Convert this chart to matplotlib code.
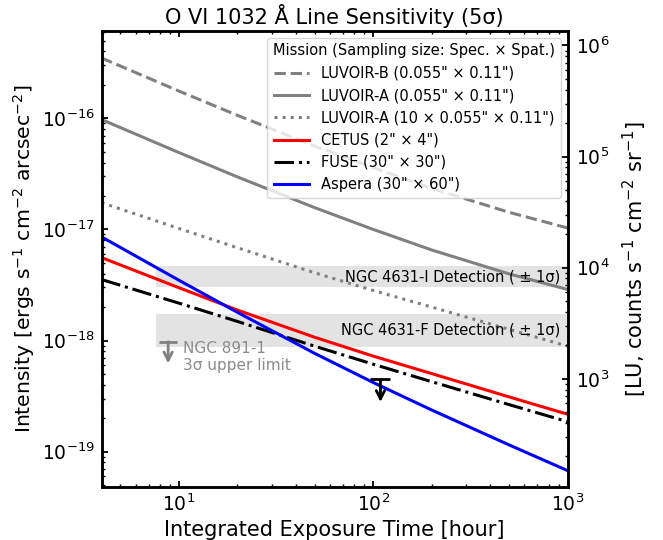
import matplotlib
matplotlib.use("Agg")
import matplotlib.pyplot as plt
import matplotlib.transforms as mtransforms

# ---- data ----
t_hours = [4, 10, 20, 50, 100, 200, 500, 1000]
luvoir_b = [3.49e-16, 1.76e-16, 1.064e-16, 5.62e-17, 3.6e-17, 2.34e-17, 1.426e-17, 1.03e-17]
luvoir_a = [9.75e-17, 4.92e-17, 2.97e-17, 1.57e-17, 1.0e-17, 6.53e-18, 3.98e-18, 2.88e-18]
luvoir_a10 = [1.74e-17, 1.02e-17, 6.84e-18, 4.07e-18, 2.82e-18, 2.0e-18, 1.26e-18, 8.9e-19]
cetus = [5.58e-18, 2.99e-18, 1.88e-18, 1.07e-18, 7.24e-19, 5.04e-19, 3.11e-19, 2.17e-19]
fuse = [3.54e-18, 2.17e-18, 1.486e-18, 8.89e-19, 6.12e-19, 4.26e-19, 2.65e-19, 1.86e-19]
aspera = [8.57e-18, 3.49e-18, 1.795e-18, 7.66e-19, 4.19e-19, 2.37e-19, 1.15e-19, 6.75e-20]

series_labels = ['LUVOIR-B (0.055" × 0.11")', 'LUVOIR-A (0.055" × 0.11")',
                 'LUVOIR-A (10 × 0.055" × 0.11")', 'CETUS (2" × 4")',
                 'FUSE (30" × 30")', 'Aspera (30" × 60")']

# detection bands (low, high) in erg s^-1 cm^-2 arcsec^-2
band_4631_I = [3.02e-18, 4.68e-18]
band_4631_F = [8.73e-19, 1.75e-18]
band_labels = ['NGC 4631-I Detection ( ± 1σ)', 'NGC 4631-F Detection ( ± 1σ)']

# NGC 891-1 upper limit
ul_t = [109]
ul_val = [4.47e-19]

LU_TO_ERG = 4.524e-22  # erg s^-1 cm^-2 arcsec^-2 per LU at 1032 A

fig = plt.figure(figsize=(6.63, 5.40), dpi=100)
ax = fig.add_axes([0.1531, 0.0981, 0.7029, 0.8444])
ax.set_xscale('log')
ax.set_yscale('log')

lw = 2.2
ax.plot(t_hours, luvoir_b, color='gray', ls='--', lw=lw, label=series_labels[0])
ax.plot(t_hours, luvoir_a, color='gray', ls='-', lw=lw, label=series_labels[1])
ax.plot(t_hours, luvoir_a10, color='gray', ls=':', lw=lw, label=series_labels[2])
ax.plot(t_hours, cetus, color='red', ls='-', lw=lw, label=series_labels[3])
ax.plot(t_hours, fuse, color='black', ls='-.', lw=lw, label=series_labels[4])
ax.plot(t_hours, aspera, color='blue', ls='-', lw=lw, label=series_labels[5])

band_xmin = 0.117
trans = mtransforms.blended_transform_factory(ax.transAxes, ax.transData)
for band, lab in zip([band_4631_I, band_4631_F], band_labels):
    ax.axhspan(band[0], band[1], xmin=band_xmin, xmax=1, color='#e3e3e3', lw=0, zorder=0)
    yc = (band[0] * band[1]) ** 0.5
    ax.text(0.985, yc, lab, transform=trans, ha='right', va='center', fontsize=10.5)

# upper limit point
ax.plot(ul_t, ul_val, marker='_', ms=15, mew=2, color='black', ls='none')
ax.annotate('', xy=(ul_t[0], ul_val[0] / 1.6), xytext=(ul_t[0], ul_val[0]),
            arrowprops=dict(arrowstyle='->', color='black', lw=2, mutation_scale=15,
                            shrinkA=0, shrinkB=0))

# key for upper limit
ax.plot([0.143], [0.3186], marker='_', ms=13, mew=2, color='gray', transform=ax.transAxes)
ax.annotate('', xy=(0.143, 0.271), xytext=(0.143, 0.3186), xycoords='axes fraction',
            textcoords='axes fraction',
            arrowprops=dict(arrowstyle='->', color='gray', lw=2, mutation_scale=15,
                            shrinkA=0, shrinkB=0))
ax.text(0.174, 0.285, 'NGC 891-1\n3σ upper limit', transform=ax.transAxes,
        color='#8c8c8c', fontsize=11, ha='left', va='center', linespacing=1.15)

ax.set_xlim(4, 1000)
ylim = (4.8e-20, 6.1e-16)
ax.set_ylim(*ylim)

ax.set_xlabel('Integrated Exposure Time [hour]', fontsize=15, labelpad=3)
ax.set_ylabel(r'Intensity [ergs s$^{-1}$ cm$^{-2}$ arcsec$^{-2}$]', fontsize=14.7, labelpad=3)
ax.set_title('O VI 1032 Å Line Sensitivity (5σ)', fontsize=15, pad=5)

ax.tick_params(which='both', direction='in', top=True, labelsize=13.5, pad=5)
ax.tick_params(which='major', length=4.5, width=1.3)
ax.tick_params(which='minor', length=2.5, width=1.0)
for s in ax.spines.values():
    s.set_linewidth(1.8)

ax2 = ax.twinx()
ax2.set_yscale('log')
ax2.set_ylim(ylim[0] / LU_TO_ERG, ylim[1] / LU_TO_ERG)
ax2.set_ylabel(r'[LU, counts s$^{-1}$ cm$^{-2}$ sr$^{-1}$]', fontsize=15, labelpad=8)
ax2.tick_params(which='both', direction='in', labelsize=13.5, pad=6)
ax2.tick_params(which='major', length=4.5, width=1.3)
ax2.tick_params(which='minor', length=2.5, width=1.0)
for s in ax2.spines.values():
    s.set_linewidth(1.8)
ax.tick_params(which='both', right=False)

leg = ax.legend(loc='upper right', fontsize=10.5, title='Mission (Sampling size: Spec. × Spat.)',
                title_fontsize=10.5, handlelength=2.4, borderaxespad=0.45)

fig.savefig('out.png', dpi=100)
